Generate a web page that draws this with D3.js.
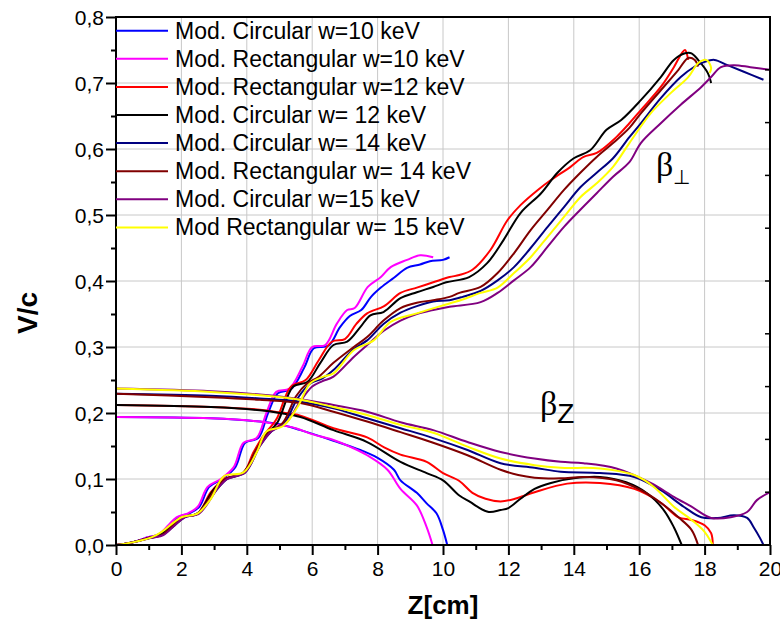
<!DOCTYPE html>
<html lang="en">
<head>
  <meta charset="UTF-8">
  <title>V/c vs Z</title>
  <style>
    * { padding: 0; margin: 0; }
    body { background: #fff; }
    text { font-family: Arial, "Liberation Sans", sans-serif; }
  </style>
</head>
<body>
  <script src="https://d3js.org/d3.v7.min.js"></script>
  <script>
    const width = 780;
    const height = 623;

    // legend labels + colours, in drawing order
    const labels = ['Mod. Circular w=10 keV', 'Mod. Rectangular w=10 keV', 'Mod. Rectangular w=12 keV',
      'Mod. Circular w= 12 keV', 'Mod. Circular w= 14 keV', 'Mod. Rectangular w= 14 keV',
      'Mod. Circular w=15 keV', 'Mod Rectangular w= 15 keV'];
    const colors = ['#0000ff', '#ff00ff', '#ff0000', '#000000', '#000080', '#800000', '#800080', '#ffff00'];

    const xTicks = [0, 2, 4, 6, 8, 10, 12, 14, 16, 18, 20];
    const yTicks = [0, 0.1, 0.2, 0.3, 0.4, 0.5, 0.6, 0.7, 0.8];

    // beta perpendicular, [z, v]
    const circ10Perp = [[0,0],[0.5,0.004],[1.0,0.012],[1.3,0.016],[1.65,0.03],[1.9,0.042],[2.25,0.048],[2.55,0.058],[2.85,0.088],[3.25,0.1],[3.65,0.118],[3.95,0.155],[4.35,0.162],[4.65,0.2],[4.95,0.23],[5.35,0.236],[5.75,0.268],[6.05,0.298],[6.5,0.302],[6.85,0.33],[7.15,0.347],[7.5,0.356],[7.8,0.376],[8.1,0.39],[8.5,0.405],[8.9,0.42],[9.3,0.425],[9.6,0.43],[10.0,0.432],[10.2,0.436]];
    const rect10Perp = [[0,0],[0.5,0.004],[1.0,0.012],[1.3,0.016],[1.6,0.03],[1.85,0.042],[2.2,0.048],[2.5,0.058],[2.8,0.088],[3.2,0.1],[3.6,0.118],[3.9,0.155],[4.3,0.162],[4.6,0.2],[4.9,0.232],[5.3,0.237],[5.7,0.27],[6.0,0.3],[6.4,0.303],[6.75,0.335],[7.07,0.356],[7.3,0.359],[7.7,0.391],[8.1,0.406],[8.4,0.421],[8.9,0.432],[9.3,0.439],[9.7,0.436]];
    const rect12Perp = [[0,0],[0.5,0.004],[1.0,0.011],[1.3,0.015],[1.7,0.03],[2.0,0.042],[2.5,0.048],[2.9,0.08],[3.3,0.1],[3.9,0.11],[4.2,0.14],[4.5,0.165],[4.9,0.19],[5.35,0.24],[5.8,0.25],[6.2,0.28],[6.6,0.308],[7.0,0.312],[7.35,0.335],[7.68,0.351],[8.2,0.362],[8.7,0.382],[9.2,0.39],[9.7,0.398],[10.2,0.406],[10.5,0.409],[10.9,0.417],[11.45,0.447],[11.97,0.492],[12.37,0.515],[12.9,0.538],[13.3,0.553],[13.9,0.573],[14.3,0.588],[14.7,0.594],[15.3,0.618],[15.7,0.639],[16.05,0.659],[16.66,0.694],[17.06,0.724],[17.3,0.745],[17.4,0.75],[17.5,0.735]];
    const circ12Perp = [[0,0],[0.5,0.004],[1.0,0.011],[1.3,0.015],[1.75,0.03],[2.05,0.042],[2.5,0.048],[3.0,0.085],[3.35,0.1],[3.9,0.11],[4.25,0.14],[4.55,0.165],[4.93,0.185],[5.42,0.24],[5.85,0.247],[6.25,0.276],[6.65,0.303],[7.07,0.308],[7.47,0.33],[7.78,0.348],[8.18,0.353],[8.7,0.374],[9.2,0.383],[9.7,0.391],[10.1,0.398],[10.8,0.406],[11.35,0.427],[11.85,0.462],[12.37,0.503],[13.0,0.533],[13.5,0.564],[14.0,0.586],[14.5,0.598],[15.0,0.629],[15.45,0.644],[16.05,0.674],[16.66,0.709],[17.06,0.735],[17.4,0.745],[17.6,0.745],[17.8,0.735],[18.1,0.715],[18.2,0.7]];
    const circ14Perp = [[0,0],[0.5,0.004],[1.05,0.011],[1.4,0.015],[1.8,0.03],[2.1,0.042],[2.5,0.048],[3.1,0.085],[3.4,0.1],[3.95,0.11],[4.4,0.15],[4.75,0.172],[5.15,0.185],[5.55,0.222],[5.95,0.245],[6.3,0.252],[6.65,0.265],[7.27,0.297],[7.68,0.31],[8.18,0.335],[8.7,0.352],[9.2,0.362],[9.7,0.369],[10.2,0.371],[10.6,0.376],[11.15,0.385],[11.67,0.401],[12.17,0.421],[12.68,0.45],[13.2,0.482],[13.7,0.512],[14.2,0.542],[14.7,0.564],[15.2,0.586],[15.7,0.618],[16.05,0.639],[16.66,0.677],[17.27,0.709],[17.7,0.725],[18.0,0.732],[18.3,0.735],[18.7,0.727],[19.2,0.717],[19.8,0.705]];
    const rect14Perp = [[0,0],[0.5,0.004],[1.05,0.011],[1.4,0.015],[1.75,0.03],[2.05,0.042],[2.5,0.048],[3.05,0.085],[3.35,0.1],[3.9,0.11],[4.35,0.15],[4.7,0.172],[5.1,0.185],[5.5,0.225],[5.85,0.245],[6.2,0.255],[6.65,0.276],[7.27,0.3],[7.68,0.315],[8.18,0.34],[8.7,0.359],[9.2,0.367],[9.7,0.371],[10.2,0.376],[10.5,0.382],[11.15,0.391],[11.67,0.412],[12.17,0.442],[12.68,0.477],[13.2,0.508],[13.7,0.538],[14.2,0.564],[14.7,0.588],[15.2,0.609],[15.7,0.632],[16.05,0.654],[16.66,0.689],[17.2,0.72],[17.5,0.738],[17.7,0.735],[17.8,0.725]];
    const circ15Perp = [[0,0],[0.5,0.004],[1.1,0.011],[1.45,0.015],[1.8,0.03],[2.1,0.042],[2.55,0.048],[3.1,0.085],[3.4,0.1],[3.95,0.11],[4.4,0.15],[4.75,0.172],[5.2,0.185],[5.6,0.215],[6.0,0.24],[6.3,0.248],[6.65,0.255],[7.27,0.285],[7.68,0.303],[8.2,0.325],[8.7,0.34],[9.2,0.35],[9.7,0.356],[10.2,0.361],[11.15,0.368],[11.67,0.382],[12.17,0.401],[12.68,0.421],[13.2,0.452],[13.7,0.482],[14.2,0.508],[14.7,0.533],[15.2,0.558],[15.7,0.58],[16.05,0.609],[16.66,0.639],[17.27,0.667],[17.9,0.694],[18.2,0.709],[18.5,0.724],[18.9,0.727],[19.4,0.724],[20,0.72]];
    const rect15Perp = [[0,0],[0.5,0.004],[1.1,0.012],[1.4,0.02],[2.0,0.042],[2.5,0.048],[2.9,0.07],[3.3,0.104],[3.9,0.11],[4.3,0.14],[4.6,0.172],[5.1,0.18],[5.55,0.209],[5.94,0.245],[6.35,0.255],[6.65,0.26],[7.27,0.295],[7.88,0.31],[8.4,0.338],[9.2,0.351],[10.2,0.366],[10.6,0.372],[11.15,0.382],[11.67,0.39],[12.17,0.412],[12.68,0.436],[13.2,0.467],[13.7,0.497],[14.2,0.527],[14.7,0.548],[15.2,0.573],[15.7,0.609],[16.35,0.654],[16.97,0.685],[17.5,0.709],[17.8,0.73],[18.05,0.735],[18.2,0.723],[18.15,0.715]];

    // beta z, [z, v]
    const circ10Z = [[0,0.194],[2.9,0.192],[4.4,0.187],[5.0,0.183],[5.64,0.174],[6.65,0.158],[7.47,0.144],[8.0,0.132],[8.5,0.114],[8.7,0.098],[9.2,0.079],[9.5,0.063],[9.8,0.048],[10.0,0.023],[10.13,0]];
    const rect10Z = [[0,0.194],[2.9,0.192],[4.4,0.187],[5.0,0.182],[5.5,0.177],[6.0,0.168],[6.65,0.159],[7.2,0.148],[7.68,0.136],[8.3,0.114],[8.7,0.085],[9.2,0.06],[9.5,0.027],[9.68,0]];
    const rect12Z = [[0,0.212],[2.9,0.209],[4.4,0.205],[5.0,0.201],[5.64,0.196],[6.65,0.177],[7.68,0.163],[8.2,0.148],[8.7,0.137],[9.5,0.126],[10.0,0.109],[10.5,0.097],[10.9,0.079],[11.3,0.07],[11.76,0.066],[12.2,0.07],[12.8,0.08],[13.8,0.093],[14.8,0.094],[15.85,0.085],[16.66,0.064],[17.2,0.042],[17.6,0.038],[18.0,0.03],[18.2,0.018],[18.25,0]];
    const circ12Z = [[0,0.212],[2.9,0.209],[4.4,0.204],[5.0,0.2],[5.64,0.194],[6.65,0.174],[7.68,0.156],[8.7,0.126],[9.5,0.109],[10.0,0.098],[10.5,0.075],[10.84,0.065],[11.05,0.058],[11.4,0.05],[11.76,0.053],[12.0,0.056],[12.37,0.07],[12.8,0.085],[13.3,0.094],[14.0,0.101],[14.8,0.103],[15.6,0.095],[16.25,0.078],[16.75,0.053],[17.06,0.027],[17.3,0]];
    const circ14Z = [[0,0.229],[2.9,0.226],[4.4,0.222],[5.64,0.217],[6.65,0.207],[7.68,0.192],[8.7,0.177],[9.7,0.162],[10.75,0.144],[11.76,0.124],[12.8,0.117],[13.6,0.111],[14.8,0.109],[15.85,0.103],[16.66,0.083],[17.36,0.058],[17.9,0.042],[18.4,0.041],[18.9,0.045],[19.3,0.041],[19.5,0.027],[19.7,0.01],[19.8,0]];
    const rect14Z = [[0,0.229],[2.9,0.224],[4.4,0.22],[5.64,0.215],[6.65,0.202],[7.68,0.187],[8.7,0.171],[9.7,0.155],[10.75,0.136],[11.76,0.114],[12.3,0.106],[12.8,0.102],[13.6,0.101],[14.3,0.103],[15.3,0.098],[16.05,0.083],[16.66,0.064],[17.2,0.042],[17.6,0.023],[17.8,0]];
    const circ15Z = [[0,0.237],[2.9,0.233],[4.4,0.228],[5.64,0.221],[6.65,0.212],[7.68,0.202],[8.7,0.186],[9.7,0.174],[10.75,0.156],[11.76,0.141],[12.8,0.131],[13.6,0.126],[14.3,0.124],[15.3,0.116],[16.35,0.094],[17.06,0.073],[17.6,0.058],[18.2,0.041],[18.8,0.042],[19.3,0.05],[19.6,0.068],[20,0.08]];
    const rect15Z = [[0,0.237],[2.9,0.232],[4.4,0.227],[5.64,0.22],[6.65,0.209],[7.68,0.197],[8.7,0.182],[9.7,0.17],[10.75,0.149],[11.76,0.131],[12.8,0.121],[13.6,0.117],[14.8,0.116],[15.85,0.106],[16.45,0.088],[17.06,0.058],[17.6,0.038],[18.0,0.02],[18.25,0]];

    const perpSeries = [circ10Perp, rect10Perp, rect12Perp, circ12Perp, circ14Perp, rect14Perp, circ15Perp, rect15Perp];
    const zSeries = [circ10Z, rect10Z, rect12Z, circ12Z, circ14Z, rect14Z, circ15Z, rect15Z];

    const pLeft = 116, pRight = 770, pTop = 17, pBottom = 545;

    const x = d3.scaleLinear().domain([0, 20]).range([pLeft, pRight]);
    const y = d3.scaleLinear().domain([0, 0.8]).range([pBottom, pTop]);

    const svg = d3.select('body')
      .append('svg')
      .attr('width', width)
      .attr('height', height);

    svg.append('defs').append('clipPath').attr('id', 'plot')
      .append('rect')
      .attr('x', pLeft).attr('y', pTop - 2)
      .attr('width', pRight - pLeft).attr('height', pBottom - pTop + 2);

    // grid
    svg.append('g')
      .selectAll('line')
      .data(xTicks.slice(1, -1))
      .join('line')
      .attr('x1', d => x(d)).attr('x2', d => x(d))
      .attr('y1', pTop).attr('y2', pBottom)
      .attr('stroke', '#c8c8c8').attr('stroke-width', 1);
    svg.append('g')
      .selectAll('line')
      .data(yTicks.slice(1, -1))
      .join('line')
      .attr('y1', d => y(d)).attr('y2', d => y(d))
      .attr('x1', pLeft).attr('x2', pRight)
      .attr('stroke', '#c8c8c8').attr('stroke-width', 1);

    // curves
    const line = d3.line()
      .x(d => x(d[0]))
      .y(d => y(d[1]))
      .curve(d3.curveCatmullRom.alpha(0.5));

    const curves = svg.append('g').attr('clip-path', 'url(#plot)');
    labels.forEach((lab, i) => {
      [perpSeries[i], zSeries[i]].forEach(s => {
        curves.append('path')
          .datum(s)
          .attr('d', line)
          .attr('fill', 'none')
          .attr('stroke', colors[i])
          .attr('stroke-width', 2)
          .attr('stroke-linejoin', 'round');
      });
    });

    // axes
    const fmt = d => d3.format('.1f')(d).replace('.', ',');

    const xAxis = d3.axisBottom(x)
      .tickValues(d3.range(0, 21, 1))
      .tickSize(0)
      .tickFormat('');
    const gx = svg.append('g').attr('transform', `translate(0,${pBottom})`).call(xAxis);
    gx.select('.domain').remove();
    gx.selectAll('.tick line')
      .attr('y2', d => d % 2 === 0 ? 10 : 5)
      .attr('stroke', '#000').attr('stroke-width', 2);
    gx.selectAll('.tick')
      .filter(d => d % 2 === 0)
      .append('text')
      .attr('y', 31)
      .attr('fill', '#000')
      .attr('text-anchor', 'middle')
      .style('font-size', '21px')
      .text(d => d);

    const yAxis = d3.axisLeft(y)
      .tickValues(d3.range(0, 17).map(k => k * 0.05))
      .tickSize(0)
      .tickFormat('');
    const gy = svg.append('g').attr('transform', `translate(${pLeft},0)`).call(yAxis);
    gy.select('.domain').remove();
    gy.selectAll('.tick line')
      .attr('x2', (d, i) => i % 2 === 0 ? -10 : -5)
      .attr('stroke', '#000').attr('stroke-width', 2);
    gy.selectAll('.tick')
      .filter((d, i) => i % 2 === 0)
      .append('text')
      .attr('x', -12)
      .attr('dy', '0.35em')
      .attr('fill', '#000')
      .attr('text-anchor', 'end')
      .style('font-size', '21px')
      .text(d => fmt(d));

    // right side ticks (inner, 0..1 layer)
    const yRight = d3.scaleLinear().domain([0, 1]).range([pBottom, pTop]);
    svg.append('g')
      .selectAll('line')
      .data(d3.range(1, 10).map(k => k / 10))
      .join('line')
      .attr('x1', pRight).attr('x2', pRight - 5)
      .attr('y1', d => yRight(d)).attr('y2', d => yRight(d))
      .attr('stroke', '#000').attr('stroke-width', 1.5);

    // frame
    svg.append('rect')
      .attr('x', pLeft).attr('y', pTop)
      .attr('width', pRight - pLeft).attr('height', pBottom - pTop)
      .attr('fill', 'none').attr('stroke', '#000').attr('stroke-width', 2);

    // axis titles
    svg.append('text')
      .attr('x', (pLeft + pRight) / 2).attr('y', 614)
      .attr('text-anchor', 'middle')
      .style('font-size', '26px').style('font-weight', 'bold')
      .text('Z[cm]');
    svg.append('text')
      .attr('transform', 'translate(37,313) rotate(-90)')
      .attr('text-anchor', 'middle')
      .style('font-size', '28px').style('font-weight', 'bold')
      .text('V/c');

    // legend
    const legend = svg.append('g');
    labels.forEach((lab, i) => {
      const ly = 30.7 + i * 28.1;
      legend.append('line')
        .attr('x1', pLeft).attr('x2', 168)
        .attr('y1', ly).attr('y2', ly)
        .attr('stroke', colors[i]).attr('stroke-width', 2);
      legend.append('text')
        .attr('x', 175).attr('y', ly + 8)
        .style('font-size', '23px')
        .text(lab);
    });

    // beta annotations
    const bp = svg.append('text').attr('x', 656).attr('y', 176);
    bp.append('tspan').style('font-family', '"Liberation Serif", serif').style('font-size', '34px').text('β');
    bp.append('tspan').attr('dy', 8).style('font-family', '"DejaVu Sans", sans-serif').style('font-size', '20px').style('font-weight', '200').text('⊥');

    const bz = svg.append('text').attr('x', 540).attr('y', 415);
    bz.append('tspan').style('font-family', '"Liberation Serif", serif').style('font-size', '34px').text('β');
    bz.append('tspan').attr('dy', 8).style('font-size', '28px').text('Z');
  </script>
</body>
</html>
